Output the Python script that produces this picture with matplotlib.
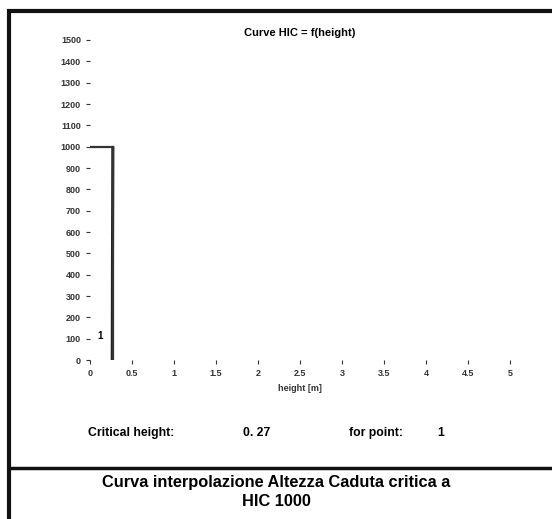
import matplotlib.pyplot as plt
from matplotlib.patches import Rectangle
from matplotlib.lines import Line2D

plt.rcParams['font.family'] = ['Liberation Sans', 'DejaVu Sans']

# data
x_ticks = [0, 0.5, 1, 1.5, 2, 2.5, 3, 3.5, 4, 4.5, 5]
x_tick_labels = ['0', '0.5', '1', '1.5', '2', '2.5', '3', '3.5', '4', '4.5', '5']
y_ticks = list(range(0, 1600, 100))
curve_height = [0.265, 0.268, 0.272]
curve_hic = [0, 500, 1000]
hic_limit = 1000
critical_height = 0.272
point_label = '1'
point_pos = (0.12, 115)

fig = plt.figure(figsize=(5.52, 5.19), dpi=100)
fig.patch.set_facecolor('white')

ax = fig.add_axes([0.163, 0.306, 0.761, 0.617])
ax.set_xlim(0, 5)
ax.set_ylim(0, 1500)
for s in ax.spines.values():
    s.set_visible(False)

# interpolated curve
ax.plot(curve_height, curve_hic, color='#222222', lw=2.2, solid_capstyle='butt')
# critical height construction lines
ax.plot([0, critical_height], [hic_limit, hic_limit], color='#333333', lw=1.6)
ax.plot([critical_height, critical_height], [hic_limit, 0], color='#333333', lw=1.6)
ax.text(point_pos[0], point_pos[1], point_label, fontsize=7, fontweight='bold',
        ha='center', va='center')

ax.set_xticks(x_ticks)
ax.set_xticklabels(x_tick_labels)
ax.set_yticks(y_ticks)
ax.tick_params(axis='both', labelsize=6.5, colors='#333333', length=3, width=0.8)
for lab in ax.get_xticklabels() + ax.get_yticklabels():
    lab.set_fontweight('bold')
ax.set_xlabel('height [m]', fontsize=6.5, fontweight='bold', color='#333333', labelpad=4)
ax.set_title('Curve HIC = f(height)', fontsize=8, fontweight='bold', pad=3)

# outer frame and footer
fig.add_artist(Rectangle((9 / 552, -0.05), 1.1, 1 - 11 / 519 + 0.05, transform=fig.transFigure,
                         fill=False, edgecolor='#111111', lw=3))
fig.add_artist(Line2D([9 / 552, 1], [1 - 468 / 519] * 2, transform=fig.transFigure,
                      color='#111111', lw=2.5))

row_y = 1 - 433 / 519
fig.text(88 / 552, row_y, 'Critical height:', fontsize=8.8, fontweight='bold', va='center')
fig.text(243 / 552, row_y, '0. 27', fontsize=8.8, fontweight='bold', va='center')
fig.text(349 / 552, row_y, 'for point:', fontsize=8.8, fontweight='bold', va='center')
fig.text(437 / 552, row_y, '1', fontsize=8.8, fontweight='bold', va='center')

fig.text(0.5, 1 - 492 / 519, 'Curva interpolazione Altezza Caduta critica a\nHIC 1000',
         fontsize=11.8, fontweight='bold', ha='center', va='center', linespacing=1.4)

fig.savefig('out.png', dpi=100)
